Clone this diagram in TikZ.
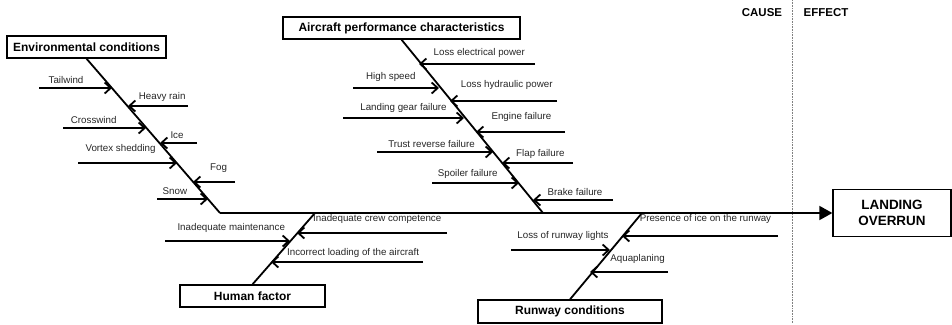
\documentclass[tikz,border=0pt]{standalone}
\usepackage{fontspec}
\setmainfont{Liberation Sans}
\usetikzlibrary{arrows.meta}

\begin{document}
\begin{tikzpicture}[x=1bp,y=-1bp,
  causebox/.style={shape=rectangle,draw=black,line width=1.3bp,inner sep=0pt,
    minimum height=22bp,font=\bfseries\fontsize{12}{14}\selectfont},
  bone/.style={line width=1.8bp},
  rib/.style={line width=1.5bp,-{Straight Barb[length=6bp,width=11bp,line width=1.8bp]}},
  lbl/.style={font=\fontsize{9.8}{11}\selectfont,text=black!85,inner sep=0.5bp,above=3bp}]
\useasboundingbox (0,0) rectangle (952,324);

% cause and effect boxes
\node[causebox,minimum width=159bp] (E) at (86.5,47) {Environmental conditions};
\node[causebox,minimum width=237bp] (P) at (401.5,28) {Aircraft performance characteristics};
\node[causebox,minimum width=145bp] (H) at (252.5,296) {Human factor};
\node[causebox,minimum width=184bp,minimum height=23bp] (R) at (570,311.5) {Runway conditions};
\node[causebox,minimum width=118bp,minimum height=47bp,align=center,
  font=\bfseries\fontsize{13.5}{16}\selectfont] (L) at (892,213) {LANDING\\OVERRUN};

% cause / effect divider
\coordinate (D1) at (792,0);
\coordinate (D2) at (792,324);
\draw[densely dotted,gray,line width=0.6bp] (D1) -- (D2);
\node[font=\bfseries\fontsize{11.5}{13}\selectfont] (C) at (762,13) {CAUSE};
\node[font=\bfseries\fontsize{11.5}{13}\selectfont] (F) at (826,13) {EFFECT};

% spine and bones
\coordinate (S) at (220,213);
\coordinate (J1) at (543,213);
\coordinate (J2) at (315,213);
\coordinate (J3) at (642,213);
\path [bone,-{Triangle[length=13bp,width=14bp]}] (S) edge (L);
\path [bone] (E.south) edge (S);
\path [bone] (P.south) edge (J1);
\path [bone] (J2) edge (H.north);
\path [bone] (J3) edge (R.north);

% environmental conditions
\coordinate (a1) at (39,88);   \coordinate (b1) at (112,88);
\coordinate (a2) at (188,106); \coordinate (b2) at (128,106);
\coordinate (a3) at (63,128);  \coordinate (b3) at (146,128);
\coordinate (a4) at (197,143); \coordinate (b4) at (160,143);
\coordinate (a5) at (78,163);  \coordinate (b5) at (177,163);
\coordinate (a6) at (235,182); \coordinate (b6) at (193,182);
\coordinate (a7) at (157,199); \coordinate (b7) at (208,199);
\path [rib] (a1) edge node[lbl,pos=.37,name=n1] {Tailwind} (b1);
\path [rib] (a2) edge node[lbl,pos=.43,name=n2] {Heavy rain} (b2);
\path [rib] (a3) edge node[lbl,pos=.37,name=n3] {Crosswind} (b3);
\path [rib] (a4) edge node[lbl,pos=.54,name=n4] {Ice} (b4);
\path [rib] (a5) edge node[lbl,pos=.43,name=n5,above=5bp] {Vortex shedding} (b5);
\path [rib] (a6) edge node[lbl,pos=.39,name=n6,above=5bp] {Fog} (b6);
\path [rib] (a7) edge node[lbl,pos=.35,name=n7] {Snow} (b7);

% aircraft performance characteristics
\coordinate (a8) at (535,64);   \coordinate (b8) at (419,64);
\coordinate (a9) at (353,88);   \coordinate (b9) at (439,88);
\coordinate (a10) at (557,101); \coordinate (b10) at (450,101);
\coordinate (a11) at (343,118); \coordinate (b11) at (464,118);
\coordinate (a12) at (565,132); \coordinate (b12) at (476,132);
\coordinate (a13) at (377,152); \coordinate (b13) at (493,152);
\coordinate (a14) at (573,163); \coordinate (b14) at (502,163);
\coordinate (a15) at (432,183); \coordinate (b15) at (519,183);
\coordinate (a16) at (613,200); \coordinate (b16) at (533,200);
\path [rib] (a8) edge node[lbl,pos=.48,name=n8,above=2bp] {Loss electrical power} (b8);
\path [rib] (a9) edge node[lbl,pos=.44,name=n9,above=2bp] {High speed} (b9);
\path [rib] (a10) edge node[lbl,pos=.47,name=n10,above=7bp] {Loss hydraulic power} (b10);
\path [rib] (a11) edge node[lbl,pos=.5,name=n11,above=1bp] {Landing gear failure} (b11);
\path [rib] (a12) edge node[lbl,pos=.49,name=n12,above=6bp] {Engine failure} (b12);
\path [rib] (a13) edge node[lbl,pos=.47,name=n13] {Trust reverse failure} (b13);
\path [rib] (a14) edge node[lbl,pos=.46,name=n14,above=0.5bp] {Flap failure} (b14);
\path [rib] (a15) edge node[lbl,pos=.41,name=n15] {Spoiler failure} (b15);
\path [rib] (a16) edge node[lbl,pos=.475,name=n16] {Brake failure} (b16);

% human factor
\coordinate (a17) at (447,233); \coordinate (b17) at (297,233);
\coordinate (a18) at (165,241); \coordinate (b18) at (290,241);
\coordinate (a19) at (423,262); \coordinate (b19) at (271,262);
\path [rib] (a17) edge node[lbl,pos=.465,name=n17,above=5bp] {Inadequate crew competence} (b17);
\path [rib] (a18) edge node[lbl,pos=.53,name=n18,above=4bp] {Inadequate maintenance} (b18);
\path [rib] (a19) edge node[lbl,pos=.46,name=n19] {Incorrect loading of the aircraft} (b19);

% runway conditions
\coordinate (a20) at (778,236); \coordinate (b20) at (622,236);
\coordinate (a21) at (511,250); \coordinate (b21) at (610,250);
\coordinate (a22) at (668,272); \coordinate (b22) at (590,272);
\path [rib] (a20) edge node[lbl,pos=.465,name=n20,above=8bp] {Presence of ice on the runway} (b20);
\path [rib] (a21) edge node[lbl,pos=.525,name=n21,above=5bp] {Loss of runway lights} (b21);
\path [rib] (a22) edge node[lbl,pos=.39,name=n22,above=4bp] {Aquaplaning} (b22);
\end{tikzpicture}
\end{document}
